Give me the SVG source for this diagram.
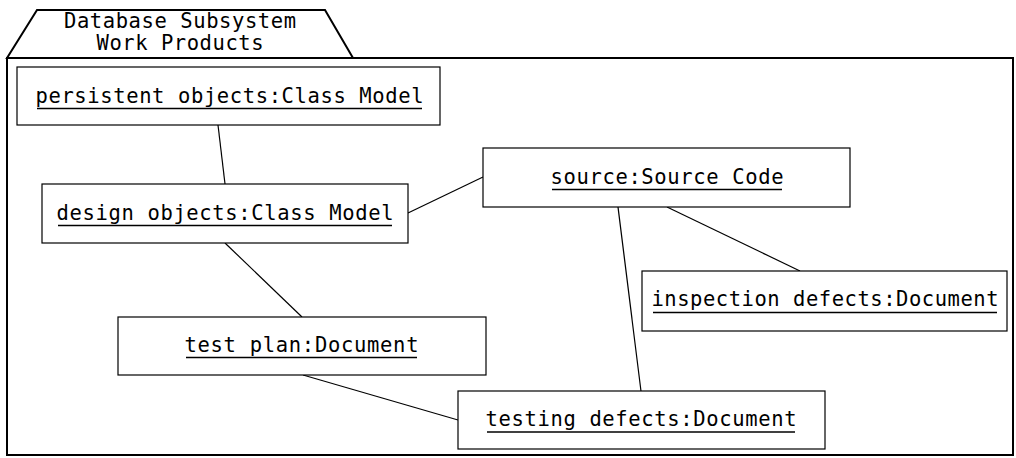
<svg xmlns="http://www.w3.org/2000/svg" width="1016" height="458" viewBox="0 0 1016 458">
<style>
.frame{fill:#fff;stroke:#000;stroke-width:2}
.box{fill:#fff;stroke:#000;stroke-width:1.2}
.lbl{font-family:"DejaVu Sans Mono","Liberation Mono",monospace;font-size:20.5px;fill:#000;text-anchor:middle}
.ul{stroke:#000;stroke-width:1.3}
.ttl{font-family:"DejaVu Sans Mono","Liberation Mono",monospace;font-size:20.5px;fill:#000;text-anchor:middle}
.conn line{stroke:#000;stroke-width:1.2}
</style>
<rect width="1016" height="458" fill="#fff"/>
<g id="package">
<polygon class="frame" points="7,58 37,10 325,10 353,58"/>
<rect class="frame" x="7" y="58" width="1006" height="397"/>
<text class="ttl" x="180" y="27.5" textLength="232" lengthAdjust="spacing">Database Subsystem</text>
<text class="ttl" x="180" y="50" textLength="167" lengthAdjust="spacing">Work Products</text>
</g>
<g class="conn" id="connectors">
<line x1="218" y1="125" x2="225" y2="184"/>
<line x1="408" y1="213" x2="483" y2="177"/>
<line x1="225" y1="243" x2="302" y2="317"/>
<line x1="303" y1="375" x2="458" y2="420"/>
<line x1="618" y1="207" x2="641" y2="391"/>
<line x1="667" y1="207" x2="800" y2="271"/>
</g>
<g id="persistent">
<rect class="box" x="17" y="67" width="423" height="58"/>
<text class="lbl" x="229.5" y="103" textLength="388" lengthAdjust="spacing">persistent objects:Class Model</text>
<line class="ul" x1="37" y1="108.5" x2="422" y2="108.5"/>
</g>
<g id="design">
<rect class="box" x="42" y="184" width="366" height="59"/>
<text class="lbl" x="225" y="219.5" textLength="337" lengthAdjust="spacing">design objects:Class Model</text>
<line class="ul" x1="58" y1="225.5" x2="392" y2="225.5"/>
</g>
<g id="source">
<rect class="box" x="483" y="148" width="367" height="59"/>
<text class="lbl" x="667" y="184" textLength="233" lengthAdjust="spacing">source:Source Code</text>
<line class="ul" x1="552" y1="189.5" x2="782" y2="189.5"/>
</g>
<g id="inspection">
<rect class="box" x="642" y="271" width="365" height="60"/>
<text class="lbl" x="825" y="306" textLength="347" lengthAdjust="spacing">inspection defects:Document</text>
<line class="ul" x1="653" y1="312.5" x2="997" y2="312.5"/>
</g>
<g id="testplan">
<rect class="box" x="118" y="317" width="368" height="58"/>
<text class="lbl" x="301.5" y="352" textLength="234" lengthAdjust="spacing">test plan:Document</text>
<line class="ul" x1="186" y1="357.5" x2="417" y2="357.5"/>
</g>
<g id="testing">
<rect class="box" x="458" y="391" width="367" height="58"/>
<text class="lbl" x="641" y="426" textLength="311" lengthAdjust="spacing">testing defects:Document</text>
<line class="ul" x1="487" y1="432" x2="795" y2="432"/>
</g>
</svg>
